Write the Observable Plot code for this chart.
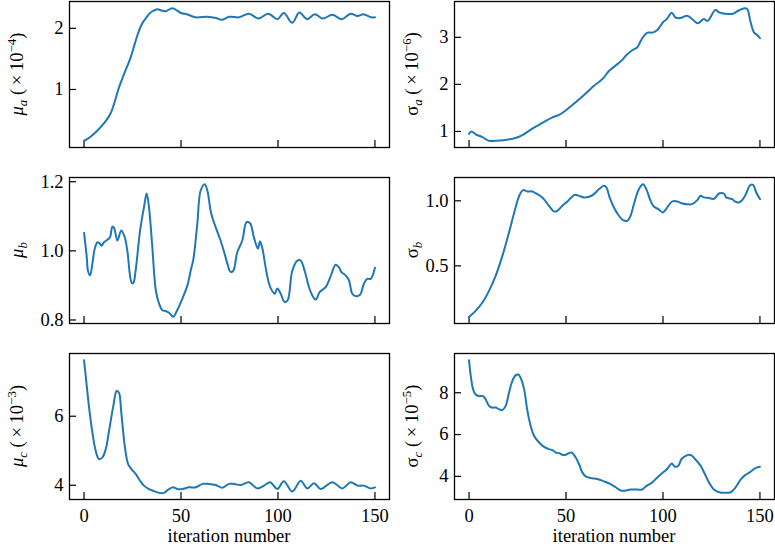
<!DOCTYPE html>
<html><head><meta charset="utf-8">
<script src="https://cdn.jsdelivr.net/npm/d3@7"></script>
<script src="https://cdn.jsdelivr.net/npm/@observablehq/plot@0.6"></script>
<style>
body{margin:0;background:#fff;}
#chart{position:relative;width:775px;height:546px;overflow:hidden;background:#fff;}
#chart svg{position:absolute;}
</style></head><body><div id="chart"></div>
<script>
// ---------- data ----------
const xTicks = [0, 50, 100, 150];
const xLabel = "iteration number";

// mu_a (x10^-4)
const muA_x = [0,3,6,9,12,14,16,18,20,22,24,26,28,30,32,34,36,38,40,42,45.5,48,50,53,57.5,63.6,68,71,75,80,85,90,95,99.7,103,107.4,111,115,119,123,128,133,137.5,141,144,148,150];
const muA_y = [0.16,0.22,0.30,0.40,0.52,0.63,0.82,1.03,1.20,1.36,1.52,1.73,1.93,2.08,2.17,2.25,2.29,2.31,2.29,2.28,2.33,2.29,2.25,2.23,2.18,2.19,2.17,2.14,2.19,2.18,2.24,2.16,2.24,2.15,2.25,2.09,2.26,2.15,2.23,2.16,2.22,2.15,2.24,2.20,2.23,2.18,2.18];
const muA_ticks = [1, 2];

// sigma_a (x10^-6)
const sigA_x = [0,1.2,3.4,6.9,10.3,13.7,19,24,27.5,32.6,37.8,43,46.4,50,55,60,64.4,67,69.6,72,75.6,79,80.8,84,86.8,89,92,94.5,97,100,102,104.5,106.5,109,112.5,115,118,121,123,127,129,132,136,139,142,143.5,145,147,148.6,150];
const sigA_y = [0.95,1.00,0.94,0.88,0.80,0.80,0.82,0.86,0.92,1.06,1.18,1.30,1.35,1.45,1.62,1.80,1.97,2.05,2.15,2.28,2.40,2.52,2.61,2.72,2.79,2.96,3.10,3.10,3.15,3.32,3.39,3.52,3.42,3.41,3.46,3.39,3.30,3.39,3.35,3.58,3.53,3.50,3.50,3.57,3.62,3.60,3.35,3.10,3.05,2.98];
const sigA_ticks = [1, 2, 3];

// mu_b
const muB_x = [0,1.4,2,3.1,4.3,5.5,6.9,8,9,10.3,12,13.4,14.6,15.5,17.2,19.2,21,22.3,24.6,25.4,26.6,28.9,30.9,32.3,33.5,35.2,37,38.7,40.4,42,43.8,46,48,50.7,53.3,55,56.4,58.4,60.1,62.2,63.6,65.6,67.9,70.4,72.5,73.9,75.6,77,79,81.6,83.8,85.6,87.6,89.7,90.7,92,93.6,95.4,97,98.3,99.7,101.4,103.4,105,107.4,110,111.7,113.7,116,117.7,119.4,121.6,124.6,127,129.7,131.4,132.6,134.9,136.6,138.3,140,142.3,144.3,146,147.8,150];
const muB_y = [1.052,0.982,0.943,0.929,0.963,1.006,1.025,1.022,1.015,1.025,1.032,1.039,1.070,1.066,1.030,1.059,1.039,1.001,0.907,0.907,0.943,1.059,1.126,1.166,1.126,1.011,0.886,0.847,0.828,0.826,0.821,0.809,0.828,0.862,0.900,0.943,0.977,1.078,1.174,1.193,1.174,1.107,1.068,1.030,0.991,0.963,0.939,0.943,0.996,1.030,1.083,1.080,1.039,1.006,1.028,1.006,0.953,0.905,0.884,0.876,0.891,0.876,0.852,0.857,0.943,0.972,0.972,0.943,0.895,0.871,0.859,0.881,0.895,0.924,0.960,0.953,0.939,0.929,0.915,0.876,0.869,0.873,0.905,0.919,0.919,0.951];
const muB_ticks = [0.8, 1.0, 1.2];

// sigma_b
const sigB_x = [0,3.4,6.9,10.3,13.7,17.2,20.6,24,26.1,27.8,30,32.6,35.2,37.8,41.2,43.8,45.5,48.1,50.7,52.4,54.6,56.7,59.3,61.9,64.4,67,69.6,70.8,72.5,74.7,77.3,79.4,81.6,83.3,85,87.6,89.7,91.4,93.6,95.4,97.6,100,102.2,104.8,107.4,110,112.5,115,117.7,119.4,121,123.7,126.3,128.9,131.4,132.6,134.4,135.7,137.1,138.8,140.5,142.6,144.7,146.4,148.1,150];
const sigB_y = [0.108,0.154,0.218,0.308,0.423,0.577,0.756,0.949,1.046,1.082,1.072,1.072,1.051,1.026,0.962,0.918,0.923,0.962,0.995,1.021,1.046,1.038,1.026,1.031,1.051,1.090,1.115,1.103,1.026,0.949,0.885,0.851,0.846,0.885,0.974,1.090,1.128,1.090,1.000,0.954,0.936,0.910,0.949,0.995,0.995,0.979,0.974,0.974,1.005,1.038,1.026,1.021,1.015,1.056,1.056,1.026,1.018,1.013,0.995,0.987,1.000,1.046,1.115,1.123,1.064,1.013];
const sigB_ticks = [0.5, 1.0];

// mu_c (x10^-3)
const muC_x = [0,1.4,2.6,4.3,6,7.7,9.5,11.2,12.9,15.1,16.8,18,19.2,21,22.7,24.4,26.6,28.9,30.9,33.5,36.1,38.7,41.2,43.8,46,48.1,50.7,54.1,57.6,61,64.4,67.9,71.3,74.7,77.3,80.8,85,89.3,92.8,95.9,99.7,103,107.4,111.7,115.1,118.6,122,128,133.2,137.5,141,144.3,147.8,150];
const muC_y = [7.625,6.875,6.25,5.53,5.0,4.76,4.81,5.05,5.58,6.30,6.73,6.68,6.11,5.14,4.62,4.47,4.33,4.13,3.99,3.89,3.83,3.78,3.78,3.89,3.94,3.89,3.89,3.94,3.94,4.04,4.04,4.01,3.93,4.04,4.04,4.01,4.09,3.91,3.99,4.09,3.89,4.12,3.82,4.13,3.91,4.06,3.89,4.09,3.91,4.09,3.99,3.99,3.91,3.94];
const muC_ticks = [4, 6];

// sigma_c (x10^-5)
const sigC_x = [0,0.9,2.1,3.4,5.2,7.2,8.6,10.3,11.7,13.7,15.5,17.2,18.9,20.6,22.3,24,25.4,26.6,28.4,30.1,31.8,33.5,36.1,38.7,41.2,43,44.7,46.4,48.1,49.8,51.5,52.9,55,56.7,58.4,60.1,62.7,66.2,69.6,73,75.6,78.2,80.8,83.3,86.8,89.3,91.1,94.5,97.1,99.7,102.2,104.5,106.2,107.9,109.6,111.7,114.3,116.5,119.4,121.6,123.7,126.3,128.9,132.3,134.9,137.5,140,142.3,144.7,146.9,148.6,150];
const sigC_y = [9.56,8.79,8.16,7.92,7.84,7.84,7.68,7.37,7.29,7.29,7.21,7.17,7.37,8.0,8.56,8.83,8.87,8.71,8.16,7.13,6.41,5.94,5.62,5.41,5.30,5.25,5.14,5.11,5.03,5.03,5.11,5.14,4.90,4.59,4.19,4.0,3.92,3.87,3.76,3.63,3.48,3.32,3.32,3.37,3.37,3.37,3.52,3.71,3.95,4.16,4.35,4.62,4.46,4.51,4.83,4.98,5.02,4.83,4.51,4.11,3.71,3.37,3.24,3.21,3.24,3.48,3.84,4.06,4.19,4.35,4.43,4.46];
const sigC_ticks = [4, 6, 8];

// ---------- layout ----------
const FONT = "Liberation Serif, DejaVu Serif, Times New Roman, serif";
const FS = 18.5, FS_SMALL = 13;
const panels = [
  {xs: muA_x, ys: muA_y, ticks: muA_ticks, fmt: d3.format("d"), sym: "μ", ital: true, sub: "a", exp: "−4", col: 0, row: 0},
  {xs: sigA_x, ys: sigA_y, ticks: sigA_ticks, fmt: d3.format("d"), sym: "σ", ital: false, sub: "a", exp: "−6", col: 1, row: 0},
  {xs: muB_x, ys: muB_y, ticks: muB_ticks, fmt: d3.format(".1f"), sym: "μ", ital: true, sub: "b", exp: null, col: 0, row: 1},
  {xs: sigB_x, ys: sigB_y, ticks: sigB_ticks, fmt: d3.format(".1f"), sym: "σ", ital: false, sub: "b", exp: null, col: 1, row: 1},
  {xs: muC_x, ys: muC_y, ticks: muC_ticks, fmt: d3.format("d"), sym: "μ", ital: true, sub: "c", exp: "−3", col: 0, row: 2},
  {xs: sigC_x, ys: sigC_y, ticks: sigC_ticks, fmt: d3.format("d"), sym: "σ", ital: false, sub: "c", exp: "−5", col: 1, row: 2}
];
const colLeft = [0, 385];
const frameTop = [1, 177, 353];
const frameH = 146, W = 390, ML = 69, MR = 1, MT = 10;
const labelX = [23, 33];

const chart = document.getElementById("chart");

for (const p of panels) {
  const last = p.row === 2;
  const MB = last ? 47 : 10;
  const [lo, hi] = d3.extent(p.ys);
  const pad = (hi - lo) * 0.05;
  const data = p.xs.map((x, i) => ({x, y: p.ys[i]}));
  const svg = Plot.plot({
    width: W, height: MT + frameH + MB,
    marginLeft: ML, marginRight: MR, marginTop: MT, marginBottom: MB,
    style: "background: transparent; overflow: visible; color: #000;",
    x: {domain: [-7.5, 157.5]},
    y: {domain: [lo - pad, hi + pad]},
    marks: [
      Plot.axisX({ticks: xTicks, tickSize: -7, tickPadding: 16, tickFormat: last ? d3.format("d") : () => "", label: null, strokeWidth: 1.2, fontSize: FS}),
      Plot.axisY({ticks: p.ticks, tickSize: -7, tickPadding: 13, tickFormat: p.fmt, label: null, strokeWidth: 1.2, fontSize: FS}),
      Plot.line(data, {x: "x", y: "y", stroke: "#1f77b4", strokeWidth: 2, curve: "catmull-rom"}),
      Plot.frame({stroke: "#000", strokeWidth: 1.3})
    ]
  });
  svg.setAttribute("font-family", FONT);
  svg.setAttribute("font-size", FS);
  svg.style.left = colLeft[p.col] + "px";
  svg.style.top = (frameTop[p.row] - MT) + "px";
  chart.appendChild(svg);

  const s = d3.select(svg);
  const t = s.append("text")
    .attr("transform", `translate(${labelX[p.col]},${MT + frameH / 2}) rotate(-90)`)
    .attr("text-anchor", "middle")
    .attr("font-size", FS).attr("fill", "#000");
  t.append("tspan").attr("font-style", p.ital ? "italic" : "normal").text(p.sym);
  t.append("tspan").attr("font-style", "italic").attr("font-size", FS_SMALL).attr("dy", 4).text(p.sub);
  if (p.exp) {
    t.append("tspan").attr("dy", -4).text(" (\u2009×\u200910");
    t.append("tspan").attr("font-size", FS_SMALL).attr("dy", -7.5).text(p.exp);
    t.append("tspan").attr("dy", 7.5).text(")");
  }
  if (last) {
    s.append("text")
      .attr("x", ML + (W - ML - MR) / 2).attr("y", MT + frameH + 43)
      .attr("text-anchor", "middle")
      .attr("font-size", FS).attr("fill", "#000")
      .text(xLabel);
  }
}
</script></body></html>
